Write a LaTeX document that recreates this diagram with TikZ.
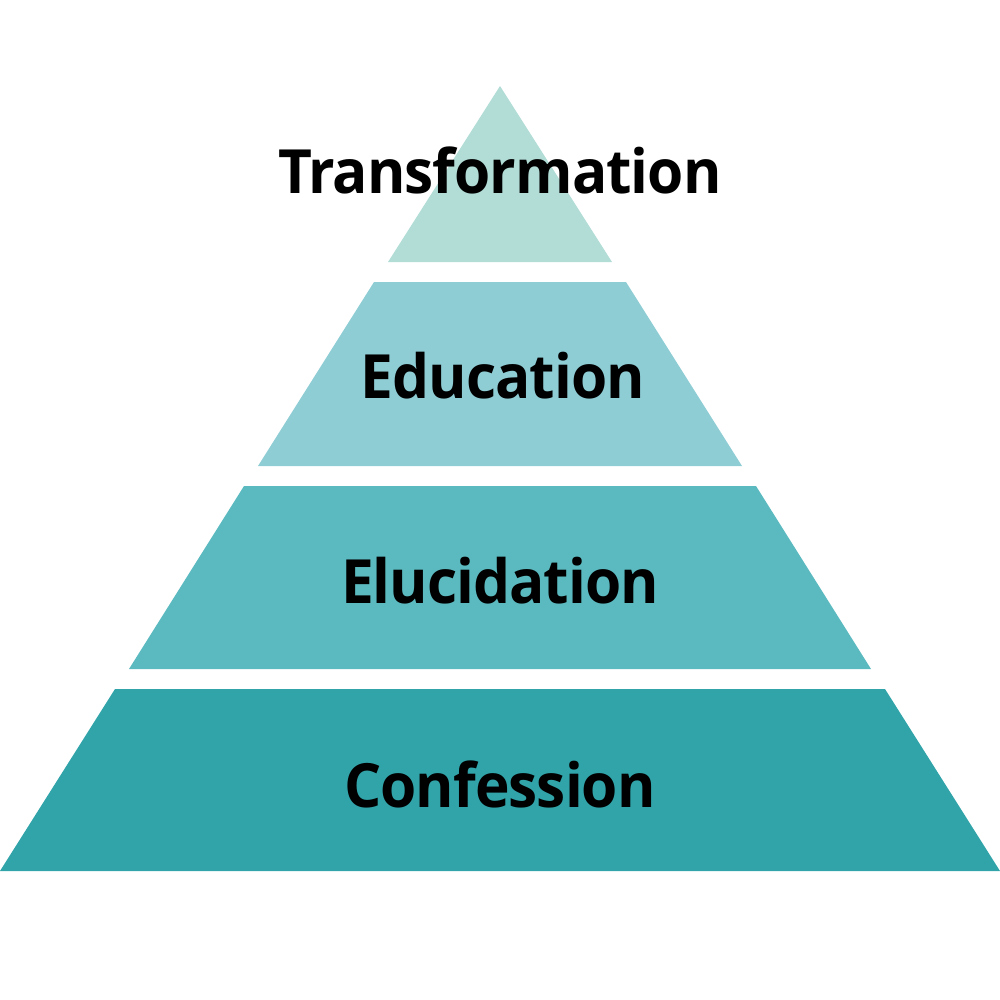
\documentclass[tikz,border=0pt]{standalone}
\usepackage{fontspec}
\setmainfont{Open Sans}
\newfontfamily\lblfont[FakeStretch=0.96,LetterSpace=-1.6]{Open Sans Bold}
\definecolor{t1}{HTML}{B2DDD6}
\definecolor{t2}{HTML}{8FCDD5}
\definecolor{t3}{HTML}{5BBAC0}
\definecolor{t4}{HTML}{31A4AA}
\begin{document}
\begin{tikzpicture}[x=1pt,y=-1pt,
  lbl/.style={anchor=base,inner sep=0pt,font=\lblfont\fontsize{61}{70}\selectfont,text=black}]
\useasboundingbox (0,0) rectangle (1000,1000);
\fill[t1] (500,86) -- (612,262) -- (388,262) -- cycle;
\fill[t2] (374,282) -- (626,282) -- (742,466) -- (258,466) -- cycle;
\fill[t3] (244,486) -- (756,486) -- (871,669) -- (129,669) -- cycle;
\fill[t4] (115,689) -- (885,689) -- (1000,871) -- (0,871) -- cycle;
\node[lbl] (n1) at (500,194) {Transformation};
\node[lbl] (n2) at (503,398) {Education};
\node[lbl] (n3) at (500,603) {Elucidation};
\node[lbl] (n4) at (500,807) {Confession};
\end{tikzpicture}
\end{document}
